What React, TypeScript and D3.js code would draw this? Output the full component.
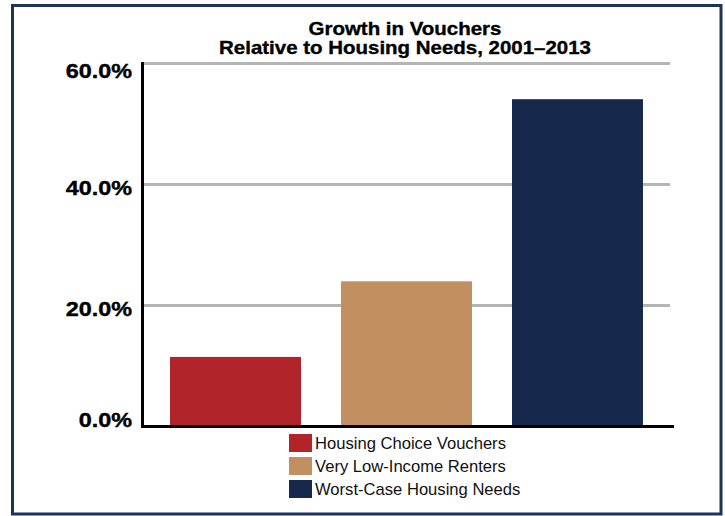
import React from "react";
import * as d3 from "d3";

const categories = ["Housing Choice Vouchers", "Very Low-Income Renters", "Worst-Case Housing Needs"];
const values = [11.5, 24.0, 54.1];
const colors = ["#b0242a", "#c28f63", "#17284d"];
const yTicks = [0, 20, 40, 60];
const tickLabels = ["0.0%", "20.0%", "40.0%", "60.0%"];
const titleLines = ["Growth in Vouchers", "Relative to Housing Needs, 2001\u20132013"];

const W = 725;
const H = 516;
const FONT = "'Liberation Sans', Arial, Helvetica, sans-serif";

export default function App() {
  const x = d3
    .scaleBand<string>()
    .domain(categories)
    .range([143, 670])
    .paddingInner(0.234)
    .paddingOuter(0.158);
  const y = d3.scaleLinear().domain([0, 60]).range([426.5, 63.5]);
  const y0 = y(0);

  return (
    <svg
      width={W}
      height={H}
      style={{ position: "absolute", left: 0, top: 0, background: "#fff" }}
      fontFamily={FONT}
    >
      <rect x={0} y={0} width={W} height={H} fill="#fff" />
      <rect x={12.5} y={5.5} width={708.5} height={508.5} fill="none" stroke="#1f3358" strokeWidth={3} />

      {/* title */}
      {titleLines.map((t, i) => (
        <text
          key={t}
          transform={`translate(405, ${35 + i * 19}) scale(1.15, 1)`}
          textAnchor="middle"
          fontWeight="bold"
          fontSize={17.8}
          fill="#000"
          stroke="#000"
          strokeWidth={0.35}
        >
          {t}
        </text>
      ))}

      {/* gridlines */}
      {yTicks
        .filter((v) => v > 0)
        .map((v) => (
          <line key={v} x1={144} x2={670} y1={y(v)} y2={y(v)} stroke="#b5b5b5" strokeWidth={3} />
        ))}

      {/* bars */}
      {categories.map((c, i) => (
        <rect
          key={c}
          x={x(c)}
          y={y(values[i])}
          width={x.bandwidth()}
          height={y0 - 1.5 - y(values[i])}
          fill={colors[i]}
        />
      ))}

      {/* axes */}
      <line x1={142.5} x2={142.5} y1={62} y2={428} stroke="#000" strokeWidth={3} />
      <line x1={141} x2={674} y1={y0} y2={y0} stroke="#000" strokeWidth={3} />

      {/* tick labels */}
      {yTicks.map((v, i) => {
        const by = Math.min(427, Math.max(78, y(v) + 10.5));
        return (
          <text
            key={v}
            transform={`translate(132, ${by}) scale(1.17, 1)`}
            textAnchor="end"
            fontWeight="bold"
            fontSize={20}
            fill="#000"
            stroke="#000"
            strokeWidth={0.4}
          >
            {tickLabels[i]}
          </text>
        );
      })}

      {/* legend */}
      {categories.map((c, i) => (
        <g key={c}>
          <rect x={289} y={434 + i * 23} width={23} height={18} fill={colors[i]} />
          <text x={315} y={449.3 + i * 22.9} fontSize={16.6} fill="#111">
            {c}
          </text>
        </g>
      ))}
    </svg>
  );
}
